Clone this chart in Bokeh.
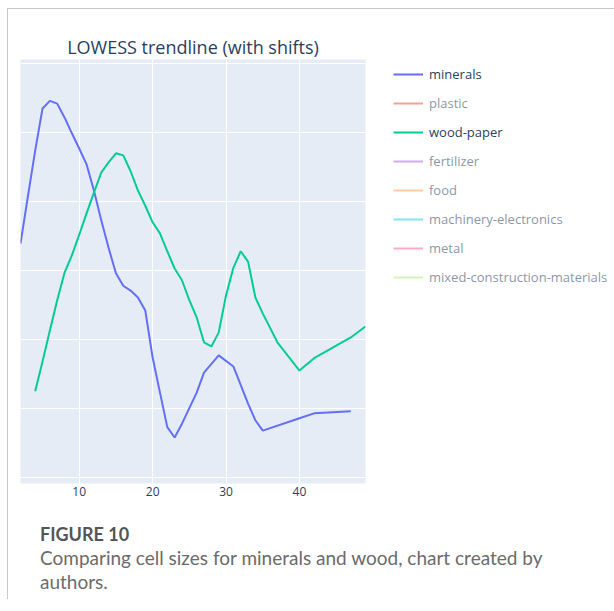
from bokeh.plotting import figure
from bokeh.models import Legend, LegendItem, FixedTicker, Range1d, Div
from bokeh.layouts import column
from bokeh.embed import file_html
from bokeh.resources import INLINE

# ---- data ----
minerals_x = [2, 3, 4, 5, 6, 7, 8, 9, 10, 11, 12, 13, 14, 15, 16, 17, 18, 19, 20, 21,
              22, 23, 24, 26, 27, 29, 31, 33, 34, 35, 40, 42, 47]
minerals_y = [3.39, 4.07, 4.74, 5.35, 5.46, 5.42, 5.22, 4.99, 4.77, 4.54, 4.16, 3.73,
              3.33, 2.96, 2.78, 2.71, 2.61, 2.42, 1.74, 1.23, 0.73, 0.58, 0.78, 1.23,
              1.52, 1.77, 1.61, 1.07, 0.83, 0.68, 0.86, 0.93, 0.96]

wood_x = [4, 5, 6, 7, 8, 9, 10, 11, 12, 13, 14, 15, 16, 17, 18, 19, 20, 21, 22, 23,
          24, 25, 26, 27, 28, 29, 30, 31, 32, 33, 34, 35, 37, 40, 42, 47, 49]
wood_y = [1.25, 1.68, 2.13, 2.57, 2.97, 3.22, 3.52, 3.83, 4.13, 4.42, 4.57, 4.70,
          4.67, 4.44, 4.16, 3.94, 3.70, 3.54, 3.28, 3.03, 2.86, 2.57, 2.32, 1.96,
          1.90, 2.10, 2.64, 3.04, 3.28, 3.13, 2.61, 2.38, 1.96, 1.55, 1.73, 2.03, 2.19]

# series shown only in the legend (hidden traces): no visible values
hidden_names = ["plastic", "fertilizer", "food", "machinery-electronics", "metal",
                "mixed-construction-materials"]
hidden_x = [float("nan")]
hidden_y = [float("nan")]

x_ticks = [10, 20, 30, 40]
y_ticks = [0, 1, 2, 3, 4, 5, 6]

legend_order = ["minerals", "plastic", "wood-paper", "fertilizer", "food",
                "machinery-electronics", "metal", "mixed-construction-materials"]
colors = {
    "minerals": "#636EFA", "plastic": "#EF553B", "wood-paper": "#00CC96",
    "fertilizer": "#AB63FA", "food": "#FFA15A", "machinery-electronics": "#19D3F3",
    "metal": "#FF6692", "mixed-construction-materials": "#B6E880",
}

FONT = "Open Sans"
TXT = "#2a3f5f"

p = figure(frame_width=345, frame_height=424, output_backend="svg",
           toolbar_location=None, min_border_left=12, min_border_top=50,
           min_border_right=245, min_border_bottom=22,
           x_range=Range1d(2, 49), y_range=Range1d(-0.087, 6.06))

p.title.text = "LOWESS trendline (with shifts)"
p.title.align = "center"
p.title.text_font = FONT
p.title.text_font_size = "18px"
p.title.text_font_style = "normal"
p.title.text_color = TXT
p.title.standoff = 2

p.background_fill_color = "#E5ECF6"
p.border_fill_color = "white"
p.outline_line_color = None

p.xaxis.ticker = FixedTicker(ticks=x_ticks)
p.xaxis.axis_line_color = None
p.xaxis.major_tick_line_color = None
p.xaxis.minor_tick_line_color = None
p.xaxis.major_tick_out = 0
p.xaxis.major_tick_in = 0
p.xaxis.minor_tick_out = 0
p.xaxis.major_label_text_font = FONT
p.xaxis.major_label_text_font_size = "12px"
p.xaxis.major_label_text_color = TXT
p.xaxis.major_label_standoff = 3

p.yaxis.visible = False
p.ygrid.ticker = FixedTicker(ticks=y_ticks)
p.xgrid.grid_line_color = "white"
p.ygrid.grid_line_color = "white"
p.xgrid.grid_line_width = 1
p.ygrid.grid_line_width = 1

renderers = {}
renderers["minerals"] = p.line(minerals_x, minerals_y, line_color=colors["minerals"],
                               line_width=2)
renderers["wood-paper"] = p.line(wood_x, wood_y, line_color=colors["wood-paper"],
                                 line_width=2)
for name in hidden_names:
    r = p.line(hidden_x, hidden_y, line_color=colors[name], line_width=2)
    r.visible = False
    renderers[name] = r

items = [LegendItem(label=n, renderers=[renderers[n]]) for n in legend_order]
legend = Legend(items=items, location=(28, 424 - 231 + 3))
legend.margin = 0
legend.padding = 4
legend.spacing = 9
legend.glyph_width = 30
legend.glyph_height = 20
legend.label_height = 20
legend.label_standoff = 6
legend.label_text_font = FONT
legend.label_text_font_size = "13px"
legend.label_text_color = TXT
legend.border_line_color = None
legend.background_fill_alpha = 0
legend.inactive_fill_color = "white"
legend.inactive_fill_alpha = 0.45
legend.click_policy = "hide"
p.add_layout(legend, "right")

caption = Div(
    text=('<div style="font-family: Lato, sans-serif; color:#555555; '
          'font-size:18px; line-height:24px;">'
          '<span style="font-weight:bold;">FIGURE 10</span><br>'
          '<span style="color:#6b6b6b; font-size:19px;">Comparing cell sizes for '
          'minerals and wood, chart created by<br>authors.</span></div>'),
    width=590, styles={"padding-left": "27px", "padding-top": "12px"})

layout = column(p, caption, spacing=0, margin=(8, 0, 0, 7),
                styles={"border-top": "1px solid #c9c9c9",
                        "border-left": "1px solid #c9c9c9"})

open("out.html", "w").write(file_html(layout, INLINE))
